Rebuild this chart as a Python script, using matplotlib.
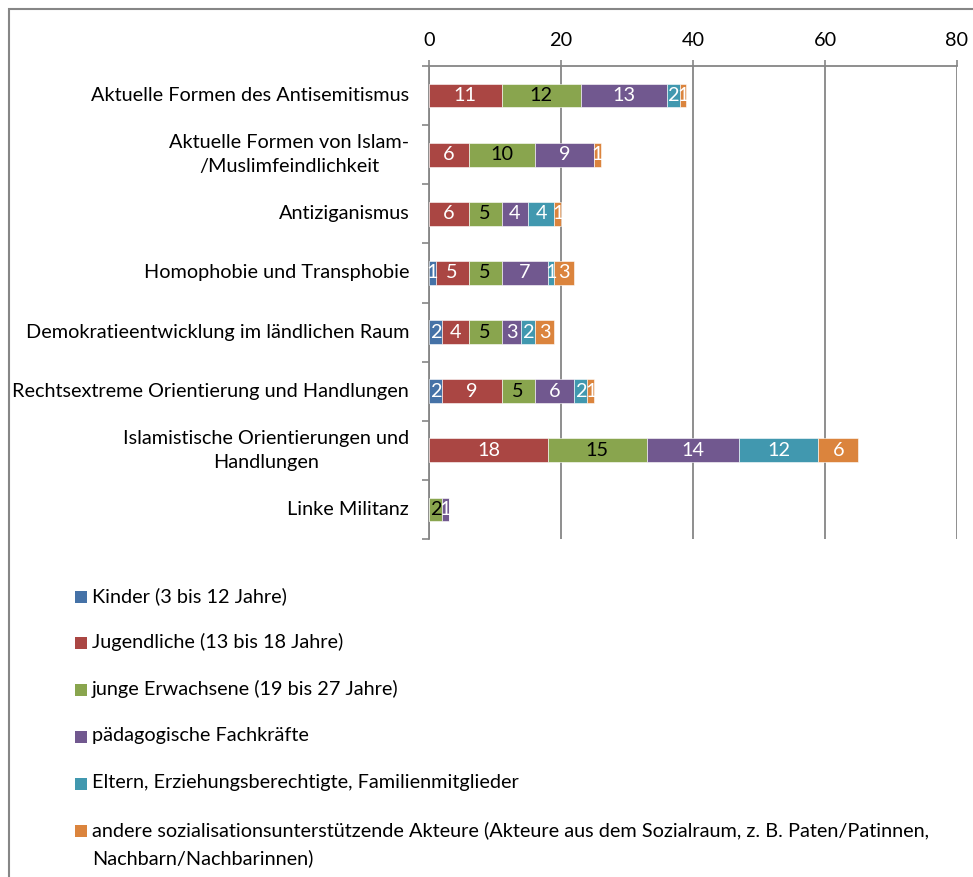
#!/usr/bin/env python3

# Stacked horizontal bars: target groups per topic area.

import matplotlib
matplotlib.use('Agg')
import matplotlib.pyplot
from matplotlib.patches import Rectangle
import numpy

FONT_FAMILY = ['Lato', 'DejaVu Sans']
FONT_SIZE = 14.3

CATEGORIES = [
    'Aktuelle Formen des Antisemitismus',
    'Aktuelle Formen von Islam-\n/Muslimfeindlichkeit',
    'Antiziganismus',
    'Homophobie und Transphobie',
    'Demokratieentwicklung im ländlichen Raum',
    'Rechtsextreme Orientierung und Handlungen',
    'Islamistische Orientierungen und\nHandlungen',
    'Linke Militanz',
]

SERIES_NAMES = [
    'Kinder (3 bis 12 Jahre)',
    'Jugendliche (13 bis 18 Jahre)',
    'junge Erwachsene (19 bis 27 Jahre)',
    'pädagogische Fachkräfte',
    'Eltern, Erziehungsberechtigte, Familienmitglieder',
    'andere sozialisationsunterstützende Akteure (Akteure aus dem Sozialraum, z. B. Paten/Patinnen,\nNachbarn/Nachbarinnen)',
]

KINDER = [0, 0, 0, 1, 2, 2, 0, 0]
JUGENDLICHE = [11, 6, 6, 5, 4, 9, 18, 0]
JUNGE_ERWACHSENE = [12, 10, 5, 5, 5, 5, 15, 2]
FACHKRAEFTE = [13, 9, 4, 7, 3, 6, 14, 1]
ELTERN = [2, 0, 4, 1, 2, 2, 12, 0]
ANDERE = [1, 1, 1, 3, 3, 1, 6, 0]

COLORS = ['#4572A7', '#AA4643', '#89A54E', '#71588F', '#4198AF', '#DB843D']
LABEL_COLORS = ['white', 'white', 'black', 'white', 'white', 'white']
GRID_COLOR = '#868686'

def main():
    matplotlib.pyplot.rcParams['font.family'] = FONT_FAMILY
    matplotlib.pyplot.rcParams['font.size'] = FONT_SIZE

    series = [KINDER, JUGENDLICHE, JUNGE_ERWACHSENE, FACHKRAEFTE, ELTERN, ANDERE]

    figure = matplotlib.pyplot.figure(figsize = (9.73, 8.77), dpi = 100)
    axis = figure.add_axes([429 / 973, 1 - 539 / 877, 528 / 973, 473 / 877])

    positions = numpy.arange(len(CATEGORIES))
    left = numpy.zeros(len(CATEGORIES))

    for values, color, labelColor in zip(series, COLORS, LABEL_COLORS):
        values = numpy.array(values, dtype = float)
        bars = axis.barh(positions, values, left = left, height = 0.4, color = color,
                edgecolor = 'white', linewidth = 0.4, zorder = 3)
        labels = [('%d' % value) if value > 0 else '' for value in values]
        axis.bar_label(bars, labels = labels, label_type = 'center', color = labelColor,
                fontsize = FONT_SIZE, zorder = 4)
        left += values

    axis.set_xlim(0, 80)
    axis.set_ylim(len(CATEGORIES) - 0.5, -0.5)
    axis.set_xticks(range(0, 81, 20))
    axis.xaxis.tick_top()
    axis.tick_params(axis = 'x', direction = 'out', length = 4, width = 1.2, color = GRID_COLOR,
            pad = 8, labelsize = FONT_SIZE)
    axis.grid(axis = 'x', color = GRID_COLOR, linewidth = 1.3, zorder = 0)

    # Category names as plain text, ticks sit between the categories.
    axis.set_yticks(numpy.arange(-0.5, len(CATEGORIES)), minor = False)
    axis.set_yticklabels([])
    axis.tick_params(axis = 'y', direction = 'out', length = 5, width = 1.2, color = GRID_COLOR)
    for position, name in zip(positions, CATEGORIES):
        axis.text(-3, position, name, ha = 'right', va = 'center', multialignment = 'center',
                transform = axis.transData, fontsize = FONT_SIZE, linespacing = 1.5)

    axis.spines['right'].set_visible(False)
    axis.spines['bottom'].set_visible(False)
    axis.spines['top'].set_color(GRID_COLOR)
    axis.spines['top'].set_linewidth(1.3)
    axis.spines['left'].set_color(GRID_COLOR)
    axis.spines['left'].set_linewidth(1.3)

    # Legend, one entry per row.
    width, height = 973.0, 877.0
    rowCenters = [597, 643, 690, 737, 784, 831]
    for name, color, rowCenter in zip(SERIES_NAMES, COLORS, rowCenters):
        figure.add_artist(Rectangle((75 / width, 1 - (rowCenter + 6) / height), 12 / width, 12 / height,
                transform = figure.transFigure, facecolor = color, edgecolor = 'none'))
        figure.text(92 / width, 1 - (rowCenter - 10) / height, name, ha = 'left', va = 'top',
                fontsize = FONT_SIZE, linespacing = 1.7)

    # Chart frame, only its top and left edges fall inside the picture.
    figure.add_artist(Rectangle((9 / width, -0.1), 1.5, 1.1 - 9 / height, transform = figure.transFigure,
            fill = False, edgecolor = GRID_COLOR, linewidth = 1.5))

    figure.savefig('out.png', dpi = 100)

if (__name__ == '__main__'):
    main()
